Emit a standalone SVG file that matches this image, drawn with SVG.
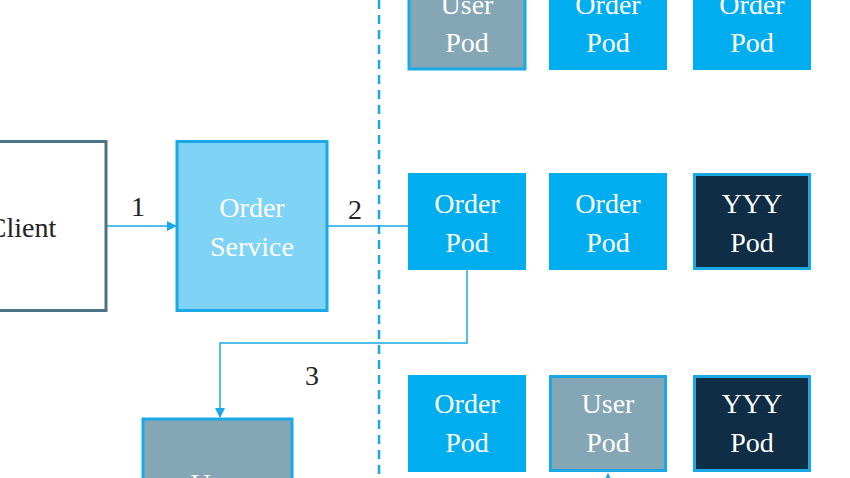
<svg xmlns="http://www.w3.org/2000/svg" width="850" height="478" viewBox="0 0 850 478">
<style>
text{font-family:'Liberation Serif','Times New Roman','DejaVu Serif',serif;font-size:28px;text-anchor:middle}
.w{fill:#fff}
.k{fill:#222}
.blue{fill:#00aeef}
.gray{fill:#85a6b5;stroke:#1aa9e6;stroke-width:3}
.dark{fill:#0f2d44;stroke:#1aa9e6;stroke-width:3}
.ln{stroke:#1aa9e6;stroke-width:1.5;fill:none}
</style>
<defs><marker id="a" markerWidth="10" markerHeight="10" refX="9" refY="5" orient="auto" markerUnits="userSpaceOnUse"><path d="M0,0L10,5L0,10z" fill="#1aa9e6"/></marker></defs>
<rect width="850" height="478" fill="#fff"/>
<line x1="379" y1="0" x2="379" y2="478" stroke="#1aa9e6" stroke-width="2.5" stroke-dasharray="9,6"/>
<g id="connectors">
<line class="ln" x1="106" y1="226" x2="176" y2="226" marker-end="url(#a)"/>
<line class="ln" x1="327" y1="226" x2="408" y2="226"/>
<polyline class="ln" points="467,270 467,343 220,343 220,417" marker-end="url(#a)"/>
<line class="ln" x1="608" y1="478" x2="608" y2="474" marker-end="url(#a)"/>
<text class="k" x="138" y="216" font-family="Liberation Serif, serif">1</text>
<text class="k" x="355" y="219" font-family="Liberation Serif, serif">2</text>
<text class="k" x="312" y="385" font-family="Liberation Serif, serif">3</text>
</g>
<g id="client"><rect x="-65" y="141.5" width="171" height="169" fill="#fff" stroke="#4a7388" stroke-width="3"/><text class="k" x="22" y="237" font-family="Liberation Serif, serif">Client</text></g>
<g id="orderService"><rect x="177" y="141.5" width="150" height="169" fill="#7fd3f5" stroke="#1aa9e6" stroke-width="3"/><text class="w" x="252" y="217">Order</text><text class="w" x="252" y="256">Service</text></g>
<g id="userService"><rect x="143" y="419" width="149" height="100" class="gray"/><text class="w" x="217" y="493">User</text></g>
<g id="p1"><rect x="409" y="-27" width="116" height="96" class="gray"/><text class="w" x="467" y="14">User</text><text class="w" x="467" y="52">Pod</text></g>
<g id="p2"><rect x="549" y="-28" width="118" height="98" class="blue"/><text class="w" x="608" y="14">Order</text><text class="w" x="608" y="52">Pod</text></g>
<g id="p3"><rect x="693" y="-28" width="118" height="98" class="blue"/><text class="w" x="752" y="14">Order</text><text class="w" x="752" y="52">Pod</text></g>
<g id="p4"><rect x="408" y="173" width="118" height="97" class="blue"/><text class="w" x="467" y="213">Order</text><text class="w" x="467" y="252">Pod</text></g>
<g id="p5"><rect x="549" y="173" width="118" height="97" class="blue"/><text class="w" x="608" y="213">Order</text><text class="w" x="608" y="252">Pod</text></g>
<g id="p6"><rect x="694.5" y="174.5" width="115" height="94" class="dark"/><text class="w" x="752" y="213">YYY</text><text class="w" x="752" y="252">Pod</text></g>
<g id="p7"><rect x="408" y="375" width="118" height="97" class="blue"/><text class="w" x="467" y="413">Order</text><text class="w" x="467" y="452">Pod</text></g>
<g id="p8"><rect x="550.5" y="376.5" width="115" height="94" class="gray"/><text class="w" x="608" y="413">User</text><text class="w" x="608" y="452">Pod</text></g>
<g id="p9"><rect x="694.5" y="376.5" width="115" height="94" class="dark"/><text class="w" x="752" y="413">YYY</text><text class="w" x="752" y="452">Pod</text></g>
</svg>
